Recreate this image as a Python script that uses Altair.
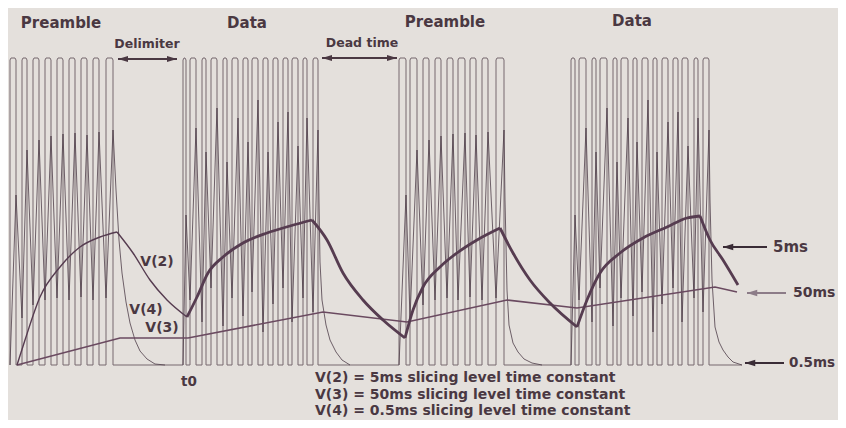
import altair as alt
import pandas as pd

# ---------------- data (page pixels) ----------------
BASE = 365   # low level of the square wave
TOP = 58     # high level of the square wave

# pulse edges of each burst: rising / falling x positions
pre1_rise = [10, 22, 33, 45, 57, 69, 81, 93, 106]
pre1_fall = [16, 27, 39, 51, 63, 75, 87, 99, 113]
dat1_rise = [183, 190, 202, 211, 223, 232, 243, 252, 263, 273, 283, 292, 303, 313]
dat1_fall = [186, 196, 206, 217, 227, 238, 248, 258, 268, 278, 288, 298, 307, 318]
pre2_rise = [399, 410, 423, 435, 447, 458, 470, 482, 496]
pre2_fall = [406, 417, 429, 441, 453, 465, 476, 488, 504]
dat2_rise = [571, 579, 592, 600, 613, 621, 633, 642, 653, 662, 673, 682, 694, 703]
dat2_fall = [575, 586, 596, 607, 617, 628, 637, 648, 657, 668, 678, 688, 698, 709]
trace_end = 742

# V(4) (0.5 ms) level at each rising edge (low) and falling edge (high)
v4_pre1_low = [365, 318, 305, 300, 298, 300, 297, 300, 298]
v4_pre1_high = [195, 150, 140, 136, 134, 133, 135, 132, 130]
v4_dat1_low = [365, 300, 322, 288, 326, 298, 316, 292, 332, 304, 288, 322, 298, 312]
v4_dat1_high = [215, 128, 152, 108, 162, 118, 142, 100, 152, 122, 112, 146, 118, 130]
v4_pre2_low = [365, 318, 305, 300, 298, 300, 297, 300, 298]
v4_pre2_high = [195, 150, 140, 136, 134, 133, 135, 132, 130]
v4_dat2_low = [365, 300, 322, 288, 326, 298, 316, 292, 332, 304, 288, 322, 298, 312]
v4_dat2_high = [215, 128, 152, 108, 162, 118, 142, 100, 152, 122, 112, 146, 118, 130]
# V(4) decay tails after each burst
tail1_x = [116, 119, 122, 126, 130, 135, 140, 147, 155, 165]
tail1_y = [190, 240, 273, 302, 323, 340, 351, 359, 364, 365]
tail2_x = [319, 320, 322, 326, 330, 336, 342, 350]
tail2_y = [200, 262, 300, 325, 340, 352, 360, 365]
tail3_x = [505, 507, 509, 513, 518, 524, 532, 542]
tail3_y = [200, 290, 325, 343, 352, 359, 363, 365]
tail4_x = [710, 712, 715, 719, 723, 728, 733, 742]
tail4_y = [200, 280, 327, 342, 350, 357, 362, 365]

# V(2) (5 ms) slicing level, one list per charge / discharge stretch
v2_seg_x = [
    [17, 25, 40, 60, 80, 100, 117],
    [117, 133, 150, 167, 187],
    [187, 197, 208, 223, 243, 267, 290, 312],
    [312, 327, 343, 363, 383, 405],
    [405, 413, 423, 440, 457, 477, 500],
    [500, 513, 530, 550, 577],
    [577, 587, 600, 620, 643, 667, 687, 700],
    [700, 710, 723, 738],
]
v2_seg_y = [
    [365, 340, 297, 267, 247, 237, 232],
    [232, 253, 280, 300, 317],
    [317, 297, 273, 257, 243, 233, 226, 220],
    [220, 240, 273, 300, 320, 338],
    [338, 310, 287, 267, 253, 240, 228],
    [228, 253, 280, 303, 327],
    [327, 300, 273, 253, 238, 227, 218, 216],
    [216, 240, 260, 285],
]
v2_seg_w = [1.4, 1.4, 2.8, 2.8, 2.8, 2.8, 2.8, 2.8]

# V(3) (50 ms) slicing level
v3_x = [17, 120, 188, 323, 407, 507, 577, 715, 737]
v3_y = [365, 338, 338, 312, 322, 300, 308, 287, 292]

# labels
center_text = ["Preamble", "Data", "Preamble", "Data", "Delimiter", "Dead time",
               "V(2)", "V(4)", "V(3)", "t0"]
center_x = [61, 247, 445, 632, 147, 362, 157, 146, 162, 189]
center_y = [23, 23, 22, 21, 44, 43, 262, 310, 328, 382]
center_size = [15, 15, 15, 15, 12.5, 12.5, 14, 14, 14, 13.5]

left_text = ["5ms", "50ms", "0.5ms",
             "V(2) = 5ms slicing level time constant",
             "V(3) = 50ms slicing level time constant",
             "V(4) = 0.5ms slicing level time constant"]
left_x = [773, 793, 789, 315, 315, 315]
left_y = [247, 293, 363, 378, 394.5, 411]
left_size = [15, 14, 13.5, 14, 14, 14]

# double arrows (x from, x to, y)
dbl_x1 = [118, 322]
dbl_x2 = [177, 397]
dbl_y = [59, 58]
# single arrows pointing left (tip x, tail x, y, shade)
sgl_tip = [723, 747, 745]
sgl_tail = [767, 786, 784]
sgl_y = [247, 293, 363]
sgl_col = ["#3a2c36", "#8c7c88", "#3a2c36"]

# ---------------- build tables ----------------
bursts = [(pre1_rise, pre1_fall), (dat1_rise, dat1_fall),
          (pre2_rise, pre2_fall), (dat2_rise, dat2_fall)]
sq = [(pre1_rise[0], BASE)]
for rises, falls in bursts:
    for r, f in zip(rises, falls):
        sq += [(r, BASE), (r, TOP + 2), (r + 1, TOP), (f - 1, TOP), (f, TOP + 2), (f, BASE)]
sq.append((trace_end, BASE))
sq_df = pd.DataFrame({"x": [p[0] for p in sq], "y": [p[1] for p in sq],
                      "o": range(len(sq))})

v4_sets = [(pre1_rise, pre1_fall, v4_pre1_low, v4_pre1_high, tail1_x, tail1_y),
           (dat1_rise, dat1_fall, v4_dat1_low, v4_dat1_high, tail2_x, tail2_y),
           (pre2_rise, pre2_fall, v4_pre2_low, v4_pre2_high, tail3_x, tail3_y),
           (dat2_rise, dat2_fall, v4_dat2_low, v4_dat2_high, tail4_x, tail4_y)]
rows = []
for k, (rs, fs, lo, hi, tx, ty) in enumerate(v4_sets):
    pts = []
    for r, f, a, b in zip(rs, fs, lo, hi):
        pts += [(r, a), (f, b)]
    pts += list(zip(tx, ty))
    for i, (x, y) in enumerate(pts):
        rows.append({"x": x, "y": y, "o": i, "s": k})
v4_df = pd.DataFrame(rows)

v2_rows = []
for k, (sx, sy, w) in enumerate(zip(v2_seg_x, v2_seg_y, v2_seg_w)):
    for i, (x, y) in enumerate(zip(sx, sy)):
        v2_rows.append({"x": x, "y": y, "o": i, "s": k, "w": w})
v2_df = pd.DataFrame(v2_rows)
v3_df = pd.DataFrame({"x": v3_x, "y": v3_y, "o": range(len(v3_x))})

ctext_df = pd.DataFrame({"t": center_text, "x": center_x, "y": center_y, "s": center_size})
ltext_df = pd.DataFrame({"t": left_text, "x": left_x, "y": left_y, "s": left_size})

dbl_df = pd.DataFrame({"x": dbl_x1, "x2": dbl_x2, "y": dbl_y})
head_l = pd.DataFrame({"x": [a + 5 for a in dbl_x1], "y": dbl_y})
head_r = pd.DataFrame({"x": [b - 5 for b in dbl_x2], "y": dbl_y})
sgl_df = pd.DataFrame({"x": sgl_tip, "x2": sgl_tail, "y": sgl_y, "c": sgl_col})
sgl_head = pd.DataFrame({"x": [a + 5 for a in sgl_tip], "y": sgl_y, "c": sgl_col})

# ---------------- chart ----------------
xs = alt.Scale(domain=[8, 838], nice=False, zero=False)
ys = alt.Scale(domain=[8, 420], nice=False, zero=False, reverse=True)
X = alt.X("x:Q", scale=xs, axis=None)
Y = alt.Y("y:Q", scale=ys, axis=None)
LEFT = "M -1 0 L 1 -0.62 L 1 0.62 Z"
RIGHT = "M 1 0 L -1 -0.62 L -1 0.62 Z"
FONT = "DejaVu Sans"
TXT = "#4a3842"

square = alt.Chart(sq_df).mark_line(color="#76686f", strokeWidth=1).encode(
    x=X, y=Y, order="o:Q")
v4 = alt.Chart(v4_df).mark_line(color="#4f3f4a", strokeWidth=1, opacity=0.8).encode(
    x=X, y=Y, order="o:Q", detail="s:N")
v3 = alt.Chart(v3_df).mark_line(color="#6a4a60", strokeWidth=1.6).encode(
    x=X, y=Y, order="o:Q")
v2 = alt.Chart(v2_df).mark_line(color="#563c50", interpolate="monotone").encode(
    x=X, y=Y, order="o:Q", detail="s:N",
    strokeWidth=alt.StrokeWidth("w:Q", scale=None))

dbl = alt.Chart(dbl_df).mark_rule(color="#4a3842", strokeWidth=2).encode(
    x=X, x2="x2:Q", y=Y)
hl = alt.Chart(head_l).mark_point(shape=LEFT, filled=True, size=100, color="#4a3842",
                                  opacity=1).encode(x=X, y=Y)
hr = alt.Chart(head_r).mark_point(shape=RIGHT, filled=True, size=100, color="#4a3842",
                                  opacity=1).encode(x=X, y=Y)
sgl = alt.Chart(sgl_df).mark_rule(strokeWidth=1.8).encode(
    x=X, x2="x2:Q", y=Y, color=alt.Color("c:N", scale=None))
sh = alt.Chart(sgl_head).mark_point(shape=LEFT, filled=True, size=110, opacity=1).encode(
    x=X, y=Y, color=alt.Color("c:N", scale=None))

ctext = alt.Chart(ctext_df).mark_text(font=FONT, fontWeight="bold", color=TXT,
                                      align="center", baseline="middle").encode(
    x=X, y=Y, text="t:N", size=alt.Size("s:Q", scale=None))
ltext = alt.Chart(ltext_df).mark_text(font=FONT, fontWeight="bold", color=TXT,
                                      align="left", baseline="middle").encode(
    x=X, y=Y, text="t:N", size=alt.Size("s:Q", scale=None))

chart = alt.layer(square, v4, v3, v2, dbl, hl, hr, sgl, sh, ctext, ltext).properties(
    width=830, height=412,
    autosize=alt.AutoSizeParams(type="none"),
    padding=0,
    background="#e4e0dc",
).configure_view(stroke=None)

chart.save("out.html", embed_options={"renderer": "svg", "actions": False})
